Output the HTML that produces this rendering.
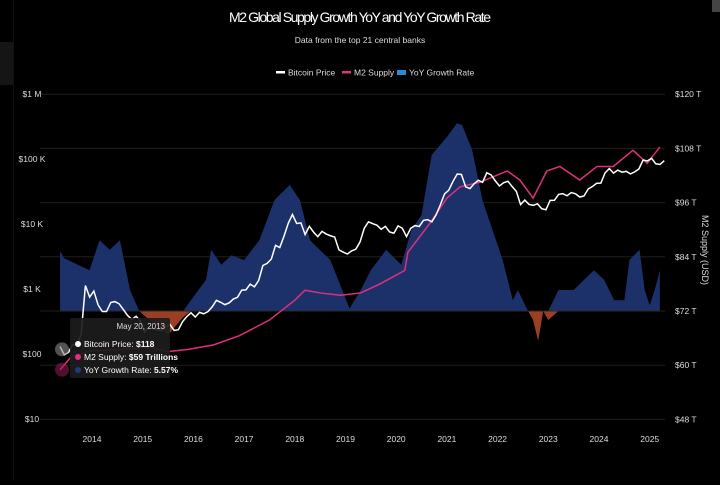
<!DOCTYPE html>
<html><head><meta charset="utf-8"><style>
body{margin:0;background:#000;width:720px;height:480px;overflow:hidden;font-family:"Liberation Sans",sans-serif}
svg text{font-family:"Liberation Sans",sans-serif}
</style></head><body>
<svg id="c" width="720" height="480">
<rect x="0" y="42" width="13" height="43" fill="#151515"/>
<line x1="13.5" y1="0" x2="13.5" y2="480" stroke="#111"/>
<rect x="712" y="0" width="8" height="12" fill="#444"/>
<text x="360" y="22" fill="#fff" font-size="14" text-anchor="middle" textLength="262">M2 Global Supply Growth YoY and YoY Growth Rate</text>
<text x="360" y="43" fill="#ddd" font-size="8.5" text-anchor="middle">Data from the top 21 central banks</text>
<g font-size="8.5" fill="#ddd">
<g><rect x="276" y="71" width="9" height="2.5" fill="#fff"/><text x="288" y="75.5">Bitcoin Price</text></g>
<g><rect x="342" y="71" width="9" height="2.5" fill="#e0307a"/><text x="354" y="75.5">M2 Supply</text></g>
<g><rect x="397" y="70" width="9" height="5" fill="#2a8ad8"/><text x="409" y="75.5">YoY Growth Rate</text></g>
</g>
<g id="grid"></g><g id="area"></g><g id="lines"></g><g id="axes"></g>
<text transform="translate(702,250) rotate(90)" fill="#ddd" font-size="9" text-anchor="middle">M2 Supply (USD)</text>
<g>
<rect x="70" y="318" width="100" height="60" fill="#1c1c1c" fill-opacity="0.92" rx="2"/>
<text x="165" y="329" fill="#ddd" font-size="8" text-anchor="end">May 20, 2013</text>
<circle cx="78" cy="344" r="3" fill="#fff"/><text x="84" y="347" fill="#fff" font-size="8.5">Bitcoin Price: <tspan font-weight="bold">$118</tspan></text>
<circle cx="78" cy="357" r="3" fill="#e0307a"/><text x="84" y="360" fill="#fff" font-size="8.5">M2 Supply: <tspan font-weight="bold">$59 Trillions</tspan></text>
<circle cx="78" cy="370" r="3" fill="#1e3a80"/><text x="84" y="373" fill="#fff" font-size="8.5">YoY Growth Rate: <tspan font-weight="bold">5.57%</tspan></text>
</g>
</svg>
<script>
const btcDates=[];
const btcStart=2013.37;
const btcPrices=[130,97,106,141,133,205,1130,750,930,570,450,450,620,640,590,480,390,340,380,320,220,255,245,235,230,265,285,230,236,315,377,430,370,437,416,448,530,670,625,575,610,700,745,960,970,1190,1080,1350,2300,2480,2880,4700,4340,6470,10200,14000,10200,10400,6900,9200,7500,6400,7700,7000,6600,6300,4000,3700,3450,3850,4100,5300,8600,10800,10100,9600,8300,9200,7550,7200,9350,8600,6400,8600,9450,9150,11350,11650,10800,13800,19700,29000,33100,45200,58800,57800,37300,35000,41500,47100,43800,61300,57000,46300,38500,43200,45500,37700,31800,19900,23300,20000,19400,20500,17200,16550,23100,23150,28500,29300,27200,30500,29200,26000,27000,34500,37700,42300,42600,61200,71300,60600,67500,62700,64600,59000,63300,70200,96400,93400,102400,84400,82500,94000];
for(let i=0;i<btcPrices.length;i++)btcDates.push(btcStart+i/12);
const m2Dates=[2013.37,2013.6,2014.0,2014.6,2015.1,2015.5,2015.9,2016.4,2016.9,2017.5,2018.0,2018.2,2018.5,2018.9,2019.3,2019.68,2020.17,2020.23,2020.67,2021.0,2021.26,2021.65,2022.19,2022.44,2022.7,2022.97,2023.23,2023.62,2023.96,2024.28,2024.67,2024.95,2025.2];
const m2Values=[59,62,63.2,63.5,64,63,63.5,64.5,66.5,70,74.4,76.6,76,75.5,76,78,81,85,91.5,97,99.5,100.5,103,101,97,103,104,101,104,104,107.6,104.7,108.3];
const growthDates=[2013.37,2013.45,2013.95,2014.15,2014.35,2014.55,2014.75,2014.93,2015.2,2015.5,2015.8,2015.95,2016.25,2016.35,2016.55,2016.75,2017.0,2017.3,2017.6,2017.9,2018.1,2018.3,2018.7,2019.1,2019.05,2019.3,2019.5,2019.8,2020.1,2020.3,2020.5,2020.7,2021.0,2021.2,2021.3,2021.5,2021.7,2021.9,2022.1,2022.3,2022.4,2022.6,2022.7,2022.8,2022.9,2023.0,2023.2,2023.5,2023.9,2024.1,2024.3,2024.5,2024.6,2024.8,2024.9,2025.0,2025.1,2025.2];
const growthValues=[10,8.8,6.8,11.8,10.2,11.8,3.5,0,-2,-4,-1,1.8,5.2,10.2,7.7,9.3,8.5,11.8,18.5,21,18.5,11.8,8.5,0,0,3.5,6.8,10.2,7.7,13.5,16,26,29,31.3,31,26.8,18.5,13.5,8.5,1.8,3.5,0,-1.5,-5,0,-1.5,3.5,3.5,6.8,5.2,1.8,1.8,8.5,10.2,3.5,1,3.5,6.8];
const X=y=>92+(y-2014)*50.7;
const YL=p=>289-65*Math.log10(p/1000);
const YR=t=>311-(t-72)*54.2/12;
const YG=g=>311-g*6;
const NS="http://www.w3.org/2000/svg";
function mk(tag,attrs,parent){const e=document.createElementNS(NS,tag);for(const k in attrs)e.setAttribute(k,attrs[k]);document.getElementById(parent).appendChild(e);return e;}
const leftTicks=[1e6,1e5,1e4,1e3,100,10];
const leftLabels=["$1 M","$100 K","$10 K","$1 K","$100","$10"];
const rightTicks=[120,108,96,84,72,60,48];
const xYears=[2014,2015,2016,2017,2018,2019,2020,2021,2022,2023,2024,2025];
rightTicks.forEach((t,i)=>{
 const g=mk('line',{x1:40,x2:665,y1:YR(t),y2:YR(t),stroke:'#1e1e1e','stroke-width':1},'grid');
 
 
 const l=mk('text',{x:675,y:YR(t)+3,fill:'#ddd','font-size':8.5},'axes');l.textContent='$'+t+' T';
 
 
});
leftTicks.forEach((t,i)=>{
 const l=mk('text',{x:32,y:YL(t)+3,fill:'#ddd','font-size':8.5,'text-anchor':'middle'},'axes');l.textContent=leftLabels[i];
 
 
});
xYears.forEach(y=>{
 const l=mk('text',{x:X(y),y:442,fill:'#ddd','font-size':8.5,'text-anchor':'middle'},'axes');l.textContent=y;
 
 
});
let pos='M'+X(growthDates[0])+','+YG(0),neg=pos;
growthDates.forEach((d,i)=>{const v=growthValues[i];pos+=' L'+X(d)+','+YG(Math.max(v,0));neg+=' L'+X(d)+','+YG(Math.min(v,0));});
const last=X(growthDates[growthDates.length-1]);
pos+=' L'+last+','+YG(0)+' Z';neg+=' L'+last+','+YG(0)+' Z';
const ap=mk('path',{d:pos,fill:'#1e3470','fill-opacity':0.95},'area');


const an=mk('path',{d:neg,fill:'#9a3f22'},'area');


const zl=mk('line',{x1:60,x2:660,y1:311,y2:311,stroke:'#2a2a2a'},'area');


const m2p=mk('polyline',{points:m2Dates.map((d,i)=>X(d)+','+YR(m2Values[i])).join(' '),fill:'none',stroke:'#e0307a','stroke-width':1.5},'lines');


const bp=mk('polyline',{points:btcDates.map((d,i)=>X(d)+','+YL(btcPrices[i])).join(' '),fill:'none',stroke:'#fff','stroke-width':1.5},'lines');


const h1=mk('circle',{cx:62,cy:YL(118),r:7,fill:'#888','fill-opacity':0.6},'lines');


const h2=mk('circle',{cx:62,cy:YR(59),r:7,fill:'#a0205a','fill-opacity':0.5},'lines');


</script>
</body></html>
